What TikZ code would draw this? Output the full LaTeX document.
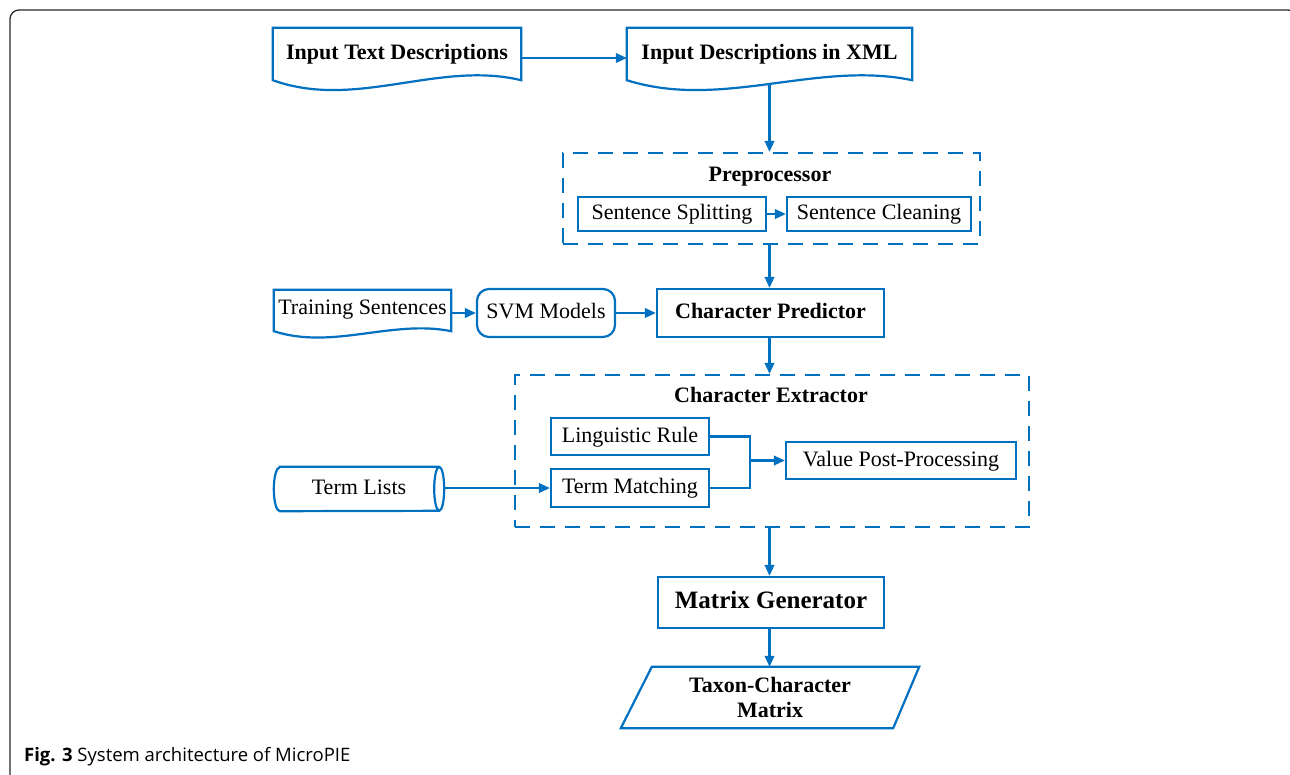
\documentclass[tikz,border=0pt]{standalone}
\usepackage{fontspec}
\setmainfont{Liberation Serif}
\newfontfamily\capfont{Open Sans}
\usetikzlibrary{arrows.meta,calc}
\definecolor{cblue}{RGB}{0,112,192}
\definecolor{frame}{RGB}{40,40,40}
\begin{document}
\begin{tikzpicture}[x=1pt,y=-1pt,
  txt/.style={inner sep=0pt, text height=15pt, text depth=4pt, font=\fontsize{22}{26}\selectfont},
  btxt/.style={txt, font=\fontsize{22}{26}\selectfont\bfseries},
  box/.style={txt, draw=cblue, line width=2.2pt},
  bbox/.style={btxt, draw=cblue, line width=2.2pt},
  shapeline/.style={draw=cblue, line width=2.2pt},
  dashbox/.style={draw=cblue, line width=2.2pt, dash pattern=on 15pt off 10pt, inner sep=0pt},
  arr/.style={draw=cblue, line width=2.1pt, -{Triangle[length=11pt,width=9.5pt]}},
  ln/.style={draw=cblue, line width=2.1pt},
]
\useasboundingbox (0,0) rectangle (1290,774);
\clip (0,0) rectangle (1290,774);
\fill[white] (0,0) rectangle (1290,774);

% outer frame
\draw[frame, line width=1.3pt, rounded corners=9pt] (10,790) -- (10,10) -- (1297,10) -- (1297,790);

% Input Text Descriptions (document)
\node[btxt, minimum width=248pt, minimum height=52pt] (itd) at (397,54) {Input Text Descriptions};
\draw[shapeline] (itd.south west) -- (itd.north west) -- (itd.north east) -- (itd.south east)
  .. controls ($(itd.south east)+(-83,-20)$) and ($(itd.south west)+(83,30)$) .. (itd.south west) -- cycle;

% Input Descriptions in XML (document)
\node[btxt, minimum width=285pt, minimum height=52pt] (xml) at (769.5,54) {Input Descriptions in XML};
\draw[shapeline] (xml.south west) -- (xml.north west) -- (xml.north east) -- (xml.south east)
  .. controls ($(xml.south east)+(-95,-20)$) and ($(xml.south west)+(95,30)$) .. (xml.south west) -- cycle;

\draw[arr] ([yshift=-4pt]itd.east) -- ([yshift=-4pt]xml.west);

% Preprocessor
\node[dashbox, minimum width=417pt, minimum height=91pt] (pre) at (771.5,198.5) {};
\node[btxt] (pret) at (770,176) {Preprocessor};
\node[box, minimum width=188pt, minimum height=34pt] (ss) at (672,214) {Sentence Splitting};
\node[box, minimum width=184pt, minimum height=34pt] (sc) at (879,214) {Sentence Cleaning};
\draw[arr] (ss.east) -- (sc.west);
\draw[arr] ($(xml.south)+(0,4)$) -- (xml.south |- pre.north);

% Character Predictor row
\node[bbox, minimum width=227pt, minimum height=48pt] (cp) at (770.5,313) {Character Predictor};
\draw[arr] (xml.south |- pre.south) -- (xml.south |- cp.north);

\node[txt, text depth=7pt, minimum width=177pt, minimum height=41pt] (ts) at (362.5,310.5) {Training Sentences};
\draw[shapeline] (ts.south west) -- (ts.north west) -- (ts.north east) -- (ts.south east)
  .. controls ($(ts.south east)+(-59,-12)$) and ($(ts.south west)+(59,19)$) .. (ts.south west) -- cycle;

\node[box, rounded corners=12pt, minimum width=138pt, minimum height=48pt] (svm) at (546,313) {SVM Models};
\draw[arr] (ts.east |- svm.west) -- (svm.west);
\draw[arr] (svm.east) -- (cp.west);

% Character Extractor
\node[dashbox, minimum width=514pt, minimum height=152pt] (ce) at (772,451) {};
\node[btxt] (cet) at (771,397) {Character Extractor};
\draw[arr] (xml.south |- cp.south) -- (xml.south |- ce.north);

\node[box, minimum width=158pt, minimum height=37pt] (lr) at (630,436.5) {Linguistic Rule};
\node[box, minimum width=158pt, minimum height=38pt] (tm) at (630,488) {Term Matching};
\node[box, minimum width=230pt, minimum height=37pt] (vpp) at (901,460.5) {Value Post-Processing};
\coordinate (jn) at (750,460.5);
\draw[ln] (lr.east) -- (lr.east -| jn) -- (tm.east -| jn) -- (tm.east);
\draw[arr] (jn) -- (vpp.west);

% Term Lists (cylinder)
\node[txt, minimum width=170pt, minimum height=44pt] (tl) at (359,489) {Term Lists};
\draw[shapeline] ($(tl.north west)+(6,0)$) -- ($(tl.north east)+(-5,0)$)
  arc[start angle=90, end angle=-90, x radius=5pt, y radius=22pt]
  -- ($(tl.south west)+(6,0)$)
  arc[start angle=270, end angle=90, x radius=6pt, y radius=22pt] -- cycle;
\draw[shapeline] ($(tl.north east)+(-5,0)$) arc[start angle=90, end angle=270, x radius=5pt, y radius=22pt];
\draw[arr] (tl.east |- tm.west) -- (tm.west);

% Matrix Generator
\node[draw=cblue, line width=2.2pt, inner sep=0pt, text height=17pt, text depth=5pt,
      font=\fontsize{25}{30}\selectfont\bfseries, minimum width=226pt, minimum height=51pt] (mg) at (771,602.5) {Matrix Generator};
\draw[arr] (xml.south |- ce.south) -- (xml.south |- mg.north);

% Taxon-Character Matrix (parallelogram)
\node[inner sep=0pt, align=center, font=\fontsize{22}{25}\selectfont\bfseries, minimum width=298pt, minimum height=61pt] (tcm) at (770,697.5) {Taxon-Character\\Matrix};
\draw[shapeline] ($(tcm.north west)+(31,0)$) -- (tcm.north east) -- ($(tcm.south east)+(-26,0)$) -- (tcm.south west) -- cycle;
\draw[arr] (xml.south |- mg.south) -- (xml.south |- tcm.north);

% caption
\node[anchor=base west, inner sep=0pt, font=\capfont\fontsize{18.5}{22}\selectfont] (cap) at (24,761) {\textbf{Fig. 3} System architecture of MicroPIE};
\end{tikzpicture}
\end{document}
